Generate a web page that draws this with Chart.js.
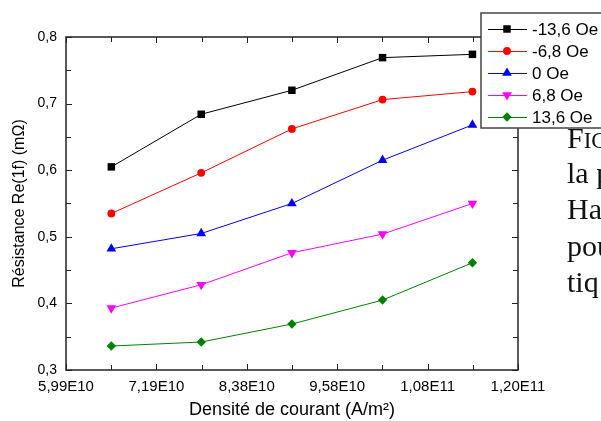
<!DOCTYPE html>
<html>
<head>
<meta charset="utf-8">
<script src="https://cdn.jsdelivr.net/npm/chart.js@4.4.0/dist/chart.umd.min.js"></script>
<style>
  body { margin: 0; background: #fff; }
</style>
</head>
<body>
<canvas id="myChart" width="601" height="421"></canvas>
<script>
// data
const currentDensity = [6.59e10, 7.78e10, 8.98e10, 1.018e11, 1.137e11];
const seriesNames = ['-13,6 Oe', '-6,8 Oe', '0 Oe', '6,8 Oe', '13,6 Oe'];
const resMinus136 = [0.605, 0.684, 0.720, 0.769, 0.774];
const resMinus68 = [0.535, 0.596, 0.662, 0.706, 0.718];
const resZero = [0.482, 0.505, 0.550, 0.615, 0.668];
const resPlus68 = [0.393, 0.428, 0.476, 0.504, 0.550];
const resPlus136 = [0.336, 0.342, 0.369, 0.405, 0.461];

const xTickValues = [5.99e10, 7.1866e10, 8.3832e10, 9.5798e10, 1.07764e11, 1.1973e11];
const xTickLabels = ['5,99E10', '7,19E10', '8,38E10', '9,58E10', '1,08E11', '1,20E11'];
const yTickValues = [0.3, 0.4, 0.5, 0.6, 0.7, 0.8];
const yTickLabels = ['0,3', '0,4', '0,5', '0,6', '0,7', '0,8'];

const colors = ['#000000', '#ff0000', '#0000ff', '#ff00ff', '#008000'];
const markers = [
  { style: 'rect', r: 5.3, rot: 0 },
  { style: 'circle', r: 3.9, rot: 0 },
  { style: 'triangle', r: 5.6, rot: 0 },
  { style: 'triangle', r: 5.6, rot: 180 },
  { style: 'rectRot', r: 4.7, rot: 0 }
];
const allSeries = [resMinus136, resMinus68, resZero, resPlus68, resPlus136];

const FONT = "'Liberation Sans', Arial, sans-serif";

// major ticks + halfway minor ticks
function withMinor(vals) {
  const out = [];
  vals.forEach((v, i) => {
    out.push({ value: v, major: true });
    if (i < vals.length - 1) out.push({ value: (v + vals[i + 1]) / 2, major: false });
  });
  return out;
}

function drawMarker(ctx, m, x, y, color) {
  ctx.save();
  ctx.fillStyle = color;
  ctx.translate(x, y);
  ctx.rotate(m.rot * Math.PI / 180);
  ctx.beginPath();
  if (m.style === 'rect') {
    const s = m.r * Math.SQRT1_2;
    ctx.rect(-s, -s, 2 * s, 2 * s);
  } else if (m.style === 'circle') {
    ctx.arc(0, 0, m.r, 0, Math.PI * 2);
  } else if (m.style === 'triangle') {
    for (let k = 0; k < 3; k++) {
      const a = -Math.PI / 2 + k * 2 * Math.PI / 3;
      ctx.lineTo(Math.cos(a) * m.r, Math.sin(a) * m.r);
    }
    ctx.closePath();
  } else {
    ctx.moveTo(0, -m.r); ctx.lineTo(m.r, 0); ctx.lineTo(0, m.r); ctx.lineTo(-m.r, 0);
    ctx.closePath();
  }
  ctx.fill();
  ctx.restore();
}

// box, inward ticks, the page text behind the figure, and the legend
const decorations = {
  id: 'decorations',
  afterDraw(chart) {
    const { ctx, chartArea: a, scales: { x, y } } = chart;
    ctx.save();
    ctx.strokeStyle = '#222';
    ctx.lineWidth = 1.5;
    ctx.strokeRect(a.left, a.top, a.right - a.left, a.bottom - a.top);
    ctx.lineWidth = 1;
    ctx.beginPath();
    x.ticks.forEach(t => {
      const px = Math.round(x.getPixelForValue(t.value)) + 0.5;
      const len = t.major ? 6 : 5;
      ctx.moveTo(px, a.bottom); ctx.lineTo(px, a.bottom - len);
      ctx.moveTo(px, a.top); ctx.lineTo(px, a.top + len);
    });
    y.ticks.forEach(t => {
      const py = Math.round(y.getPixelForValue(t.value)) + 0.5;
      const len = t.major ? 6 : 5;
      ctx.moveTo(a.left, py); ctx.lineTo(a.left + len, py);
      ctx.moveTo(a.right, py); ctx.lineTo(a.right - len, py);
    });
    ctx.stroke();

    // caption text of the surrounding document
    ctx.fillStyle = '#111';
    ctx.textBaseline = 'alphabetic';
    ctx.font = "30px 'Liberation Serif', serif";
    ctx.fillText('F', 567, 148);
    const fw = ctx.measureText('F').width;
    ctx.font = "23px 'Liberation Serif', serif";
    ctx.fillText('IGURE', 567 + fw, 148);
    ctx.font = "30px 'Liberation Serif', serif";
    ['la p', 'Ha', 'pou', 'tiq'].forEach((s, i) => ctx.fillText(s, 567, 183 + i * 36.3));

    // legend
    const lx = 481, ly = 13, lh = 115;
    ctx.fillStyle = '#fff';
    ctx.fillRect(lx, ly, 130, lh);
    ctx.strokeStyle = '#444';
    ctx.lineWidth = 1.5;
    ctx.strokeRect(lx, ly, 130, lh);
    ctx.font = '17px ' + FONT;
    ctx.textBaseline = 'middle';
    chart.data.datasets.forEach((ds, i) => {
      const ry = 29 + i * 22;
      ctx.strokeStyle = ds.borderColor;
      ctx.lineWidth = 1;
      ctx.beginPath();
      ctx.moveTo(488, ry + 0.5); ctx.lineTo(527, ry + 0.5);
      ctx.stroke();
      drawMarker(ctx, markers[i], 507, ry, ds.borderColor);
      ctx.fillStyle = '#000';
      ctx.fillText(ds.label, 532, ry + 1);
    });
    ctx.restore();
  }
};

const ctx = document.getElementById('myChart').getContext('2d');
const myChart = new Chart(ctx, {
  type: 'scatter',
  data: {
    datasets: allSeries.map((vals, i) => ({
      label: seriesNames[i],
      data: vals.map((v, k) => ({ x: currentDensity[k], y: v })),
      showLine: true,
      borderColor: colors[i],
      backgroundColor: colors[i],
      borderWidth: 1,
      pointStyle: markers[i].style,
      pointRadius: markers[i].r,
      pointRotation: markers[i].rot,
      pointBorderWidth: 0,
      pointHoverRadius: markers[i].r
    }))
  },
  options: {
    responsive: false,
    animation: false,
    layout: { padding: { top: 37, right: 83, left: 0, bottom: 0 } },
    plugins: { legend: { display: false }, tooltip: { enabled: false } },
    scales: {
      x: {
        type: 'linear',
        min: xTickValues[0],
        max: xTickValues[xTickValues.length - 1],
        afterBuildTicks: s => { s.ticks = withMinor(xTickValues); },
        afterFit: s => { s.height = 51; },
        grid: { display: false, drawTicks: false },
        border: { display: false },
        ticks: {
          autoSkip: false, maxRotation: 0, padding: 8,
          color: '#000', font: { family: FONT, size: 15 },
          callback: (v) => { const i = xTickValues.indexOf(v); return i >= 0 ? xTickLabels[i] : ''; }
        },
        title: {
          display: true, text: 'Densité de courant (A/m²)', color: '#000',
          font: { family: FONT, size: 18 }, padding: { top: 0, bottom: 0 }
        }
      },
      y: {
        min: 0.3,
        max: 0.8,
        afterBuildTicks: s => { s.ticks = withMinor(yTickValues); },
        afterFit: s => { s.width = 66; },
        grid: { display: false, drawTicks: false },
        border: { display: false },
        ticks: {
          autoSkip: false, padding: 9,
          color: '#000', font: { family: FONT, size: 14 },
          callback: (v) => { const i = yTickValues.findIndex(t => Math.abs(t - v) < 1e-9); return i >= 0 ? yTickLabels[i] : ''; }
        },
        title: {
          display: true, text: 'Résistance Re(1f) (mΩ)', color: '#000',
          font: { family: FONT, size: 16 }, padding: { top: 10, bottom: 0 }
        }
      }
    }
  },
  plugins: [decorations]
});
</script>
</body>
</html>
